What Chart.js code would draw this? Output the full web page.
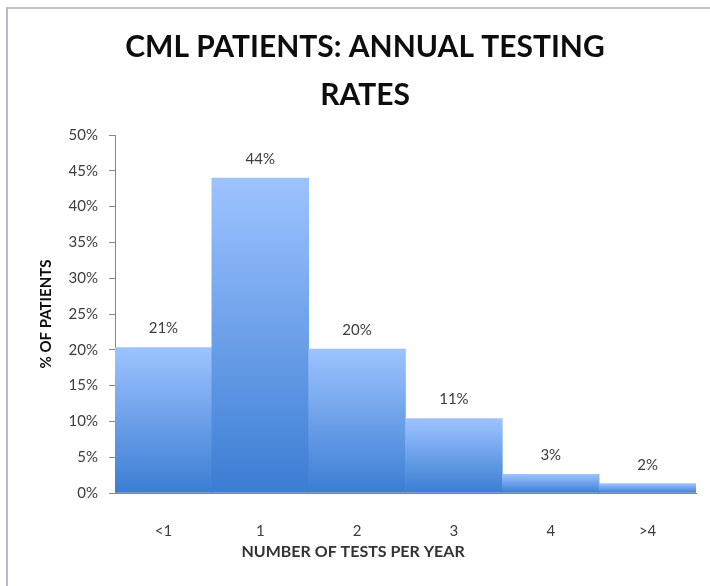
<!DOCTYPE html>
<html>
<head>
<meta charset="utf-8">
<title>CML patients: annual testing rates</title>
<script src="https://cdn.jsdelivr.net/npm/chart.js@4/dist/chart.umd.min.js"></script>
<style>
  html, body { margin: 0; padding: 0; background: #fff; overflow: hidden; width: 710px; height: 586px; }
  .edge { position: absolute; }
  #edgeTop { left: 6px; top: 7px; width: 704px; height: 2px; background: #c4c4c4; }
  #edgeLeft { left: 6px; top: 7px; width: 2px; height: 579px; background: #b4bccb; }
  #chart { position: absolute; left: 8px; top: 9px; }
</style>
</head>
<body>
<div class="edge" id="edgeTop"></div>
<div class="edge" id="edgeLeft"></div>
<canvas id="chart" width="702" height="577"></canvas>
<script>
const categories = ["<1", "1", "2", "3", "4", ">4"];
const percentPatients = [20.3, 44.0, 20.1, 10.4, 2.6, 1.3];
const valueLabels = ["21%", "44%", "20%", "11%", "3%", "2%"];
const yMax = 50;
const yStep = 5;

const fontFamily = "Lato, 'Open Sans', sans-serif";

function barGradient(context) {
  const chart = context.chart;
  const { ctx, chartArea, scales } = chart;
  if (!chartArea || !scales.y) return "#6d9ff0";
  const top = scales.y.getPixelForValue(context.raw);
  const bottom = scales.y.getPixelForValue(0);
  const g = ctx.createLinearGradient(0, top, 0, bottom);
  g.addColorStop(0, "#9dc3ff");
  g.addColorStop(1, "#3b7dd3");
  return g;
}

// value labels above each bar
const valueLabelPlugin = {
  id: "valueLabels",
  afterDatasetsDraw(chart) {
    const ctx = chart.ctx;
    const meta = chart.getDatasetMeta(0);
    ctx.save();
    ctx.font = "15px " + fontFamily;
    ctx.fillStyle = "#3c3c3c";
    ctx.textAlign = "center";
    ctx.textBaseline = "middle";
    meta.data.forEach((bar, i) => {
      ctx.fillText(valueLabels[i], bar.x, bar.y - 19);
    });
    ctx.restore();
  },
};

// x axis title, sits left of the plot centre like the original
const xTitlePlugin = {
  id: "xTitle",
  afterDraw(chart) {
    const ctx = chart.ctx;
    const x = chart.scales.x;
    ctx.save();
    ctx.font = "bold 16px " + fontFamily;
    ctx.fillStyle = "#333";
    ctx.textAlign = "center";
    ctx.textBaseline = "middle";
    ctx.fillText("NUMBER OF TESTS PER YEAR", x.getPixelForValue(2) - 4, x.top + 59);
    ctx.restore();
  },
};

new Chart(document.getElementById("chart").getContext("2d"), {
  type: "bar",
  data: {
    labels: categories,
    datasets: [
      {
        label: "% of patients",
        data: percentPatients,
        backgroundColor: barGradient,
        borderWidth: 0,
        barPercentage: 1,
        categoryPercentage: 1,
      },
    ],
  },
  options: {
    responsive: false,
    animation: false,
    devicePixelRatio: 1,
    layout: { padding: { left: 26, right: 14, top: 0, bottom: 0 } },
    plugins: {
      legend: { display: false },
      tooltip: { enabled: false },
      title: {
        display: true,
        text: ["CML PATIENTS: ANNUAL TESTING", "RATES"],
        color: "#0d0d0d",
        font: { family: fontFamily, size: 30, weight: "bold", lineHeight: 1.6 },
        padding: { top: 14, bottom: 16 },
      },
    },
    scales: {
      x: {
        offset: true,
        grid: { display: false },
        border: { display: true, color: "#868686", width: 1 },
        ticks: {
          color: "#3c3c3c",
          padding: 21,
          font: { family: fontFamily, size: 15 },
        },
        afterFit(scale) {
          scale.height = 93;
        },
      },
      y: {
        min: 0,
        max: yMax,
        grid: {
          display: true,
          drawOnChartArea: false,
          drawTicks: true,
          tickLength: 6,
          color: "#868686",
        },
        border: { display: true, color: "#868686", width: 1 },
        ticks: {
          stepSize: yStep,
          padding: 11,
          color: "#3c3c3c",
          font: { family: fontFamily, size: 15 },
          callback: (v) => v + "%",
        },
        title: {
          display: true,
          text: "% OF PATIENTS",
          color: "#0d0d0d",
          font: { family: fontFamily, size: 15, weight: "bold" },
          padding: { top: 3, bottom: 4 },
        },
        afterFit(scale) {
          scale.width = 81;
        },
      },
    },
  },
  plugins: [valueLabelPlugin, xTitlePlugin],
});
</script>
</body>
</html>
